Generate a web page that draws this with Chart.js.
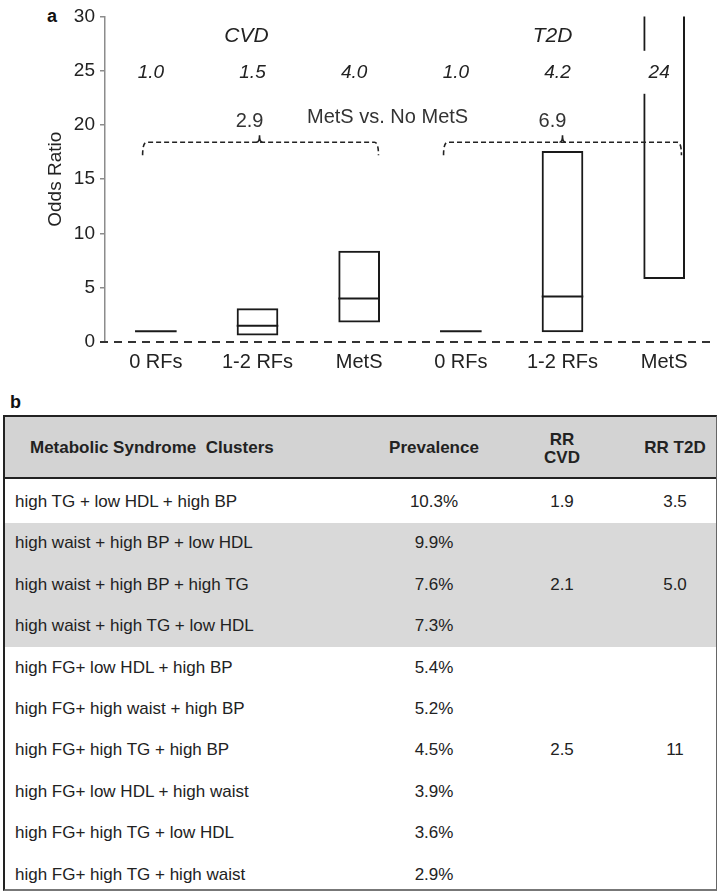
<!DOCTYPE html>
<html>
<head>
<meta charset="utf-8">
<script src="https://cdn.jsdelivr.net/npm/chart.js@4.4.1/dist/chart.umd.min.js"></script>
<style>
  html, body { margin: 0; padding: 0; background: #fff; }
  body { width: 720px; height: 893px; position: relative; overflow: hidden;
         font-family: "Liberation Sans", Arial, sans-serif; color: #222; }
  #plot { position: absolute; left: 0; top: 0; }
  .panel { position: absolute; font-weight: bold; font-size: 18px; line-height: 18px; color: #111; }
  #tbl { position: absolute; left: 3px; top: 415px; width: 714px; height: 476px; box-sizing: border-box;
         border-top: 2px solid #222; border-left: 2px solid #222; border-right: 1px solid #666; border-bottom: 2px solid #777; }
  #tbl div { position: absolute; }
  .hdr { font-weight: bold; font-size: 17px; line-height: 18px; color: #222; }
  .cell { font-size: 17px; line-height: 20px; height: 20px; color: #222; white-space: nowrap; }
  .ctr { width: 140px; text-align: center; }
</style>
</head>
<body>
<div class="panel" style="left:47px; top:7px;">a</div>
<canvas id="plot" width="720" height="390"></canvas>
<div class="panel" style="left:10px; top:393px;">b</div>
<div id="tbl"></div>

<script>
// ---- panel a: odds ratios for CVD and T2D by risk-factor group ----
const categories = ['0 RFs', '1-2 RFs', 'MetS', '0 RFs', '1-2 RFs', 'MetS'];
const outcomes   = ['CVD', 'T2D'];
const lower      = [1.0, 0.6, 1.8, 1.0, 0.9, 5.8];
const upper      = [1.0, 3.1, 8.4, 1.0, 17.6, 36];   // T2D MetS upper limit runs past the axis top
const median     = [1.0, 1.5, 4.0, 1.0, 4.2, 24];
const metsVsNone = [2.9, 6.9];
const yTicks     = [0, 5, 10, 15, 20, 25, 30];

// ---- panel b: metabolic syndrome clusters ----
const clusters = [
  'high TG + low HDL + high BP',
  'high waist + high BP + low HDL',
  'high waist + high BP + high TG',
  'high waist + high TG + low HDL',
  'high FG+ low HDL + high BP',
  'high FG+ high waist + high BP',
  'high FG+ high TG + high BP',
  'high FG+ low HDL + high waist',
  'high FG+ high TG + low HDL',
  'high FG+ high TG + high waist'
];
const prevalence = [10.3, 9.9, 7.6, 7.3, 5.4, 5.2, 4.5, 3.9, 3.6, 2.9];
const groupSpans = [[0, 0], [1, 3], [4, 9]];
const groupLabelRow = [0, 2, 6];
const rrCVD = [1.9, 2.1, 2.5];
const rrT2D = [3.5, 5.0, 11];

const FONT = '"Liberation Sans", Arial, sans-serif';
const fmt = v => (v >= 10 ? v.toFixed(0) : v.toFixed(1));

const notes = {
  id: 'notes',
  afterDatasetsDraw(chart) {
    const { ctx, chartArea: a, scales: { x, y } } = chart;
    const px = i => x.getPixelForValue(i);
    const bars = chart.getDatasetMeta(0).data;
    ctx.save();

    // dashed reference line along OR = 0
    const y0 = y.getPixelForValue(0);
    ctx.setLineDash([8, 6]);
    ctx.lineWidth = 2;
    ctx.strokeStyle = '#333';
    ctx.beginPath();
    ctx.moveTo(a.left - 5, y0);
    ctx.lineTo(a.right - 3, y0);
    ctx.stroke();

    // braces spanning each outcome group
    const braces = [{ from: -0.13, to: 2.19, mid: 1.02 }, { from: 2.83, to: 5.17, mid: 4.0 }];
    const yb = y.getPixelForValue(18.4), yEnd = y.getPixelForValue(17.2), yTip = y.getPixelForValue(19.05);
    ctx.setLineDash([5, 3]);
    ctx.lineWidth = 1.6;
    ctx.strokeStyle = '#222';
    braces.forEach(b => {
      const x1 = px(b.from), x2 = px(b.to), xm = px(b.mid);
      ctx.beginPath();
      ctx.moveTo(x1, yEnd);
      ctx.quadraticCurveTo(x1, yb, x1 + 4, yb);
      ctx.lineTo(x2 - 4, yb);
      ctx.quadraticCurveTo(x2, yb, x2, yEnd);
      ctx.stroke();
      ctx.setLineDash([]);
      ctx.beginPath();
      ctx.moveTo(xm - 3, yb);
      ctx.quadraticCurveTo(xm, yb, xm, yTip);
      ctx.quadraticCurveTo(xm, yb, xm + 3, yb);
      ctx.stroke();
      ctx.setLineDash([5, 3]);
    });
    ctx.setLineDash([]);

    ctx.textAlign = 'center';
    ctx.textBaseline = 'middle';

    // outcome titles
    ctx.fillStyle = '#222';
    ctx.font = 'italic 21px ' + FONT;
    const yt = y.getPixelForValue(28.16);
    ctx.fillText(outcomes[0], px(1) - 11, yt);
    ctx.fillText(outcomes[1], px(4) - 10, yt);

    // median odds ratios, each on a white label box as wide as its bar
    // (the box stops short of the bar's right border line)
    const ym = y.getPixelForValue(24.85);
    ctx.font = 'italic 19px ' + FONT;
    median.forEach((m, i) => {
      const b = bars[i];
      const half = b.width / 2;
      ctx.fillStyle = '#fff';
      ctx.fillRect(b.x - half - 1, ym - 21.5, b.width - 1, 43);
      ctx.fillStyle = '#222';
      ctx.fillText(fmt(m), px(i) - 5, ym);
    });

    // MetS vs. No MetS comparison
    ctx.font = '20px ' + FONT;
    ctx.fillStyle = '#333';
    ctx.fillText('MetS vs. No MetS', px(2.25) + 3, y.getPixelForValue(20.7));
    const yv = y.getPixelForValue(20.34);
    metsVsNone.forEach((v, k) => ctx.fillText(fmt(v), px(braces[k].mid) - 10, yv));

    ctx.restore();
  }
};

new Chart(document.getElementById('plot'), {
  data: {
    labels: categories,
    datasets: [
      {
        type: 'bar',
        data: lower.map((lo, i) => [lo, upper[i]]),
        backgroundColor: 'transparent',
        borderColor: '#1a1a1a',
        borderWidth: 2,
        borderSkipped: false,
        barPercentage: 1,
        categoryPercentage: 0.41,
        clip: 0
      },
      {
        type: 'line',
        data: median,
        showLine: false,
        pointStyle: 'line',
        pointRadius: 20.8,
        pointBorderWidth: 2,
        pointBorderColor: '#1a1a1a',
        pointBackgroundColor: '#1a1a1a'
      }
    ]
  },
  options: {
    responsive: false,
    animation: false,
    events: [],
    layout: { autoPadding: false, padding: { top: 16, right: 5, left: 0, bottom: 0 } },
    plugins: { legend: { display: false }, tooltip: { enabled: false } },
    scales: {
      x: {
        afterFit(s) { s.height = 48; },
        grid: { display: false, drawTicks: false },
        border: { display: false },
        ticks: { color: '#222', font: { family: FONT, size: 20 }, padding: 8, maxRotation: 0, autoSkip: false }
      },
      y: {
        min: 0, max: 30,
        afterFit(s) { s.width = 105; },
        afterBuildTicks(s) { s.ticks = yTicks.map(v => ({ value: v })); },
        ticks: { color: '#222', font: { family: FONT, size: 19 }, padding: 5 },
        grid: { drawOnChartArea: false, drawTicks: true, tickLength: 5, color: '#8c8c8c', lineWidth: 1.5 },
        border: { display: true, color: '#8c8c8c', width: 1.5 },
        title: { display: true, text: 'Odds Ratio', color: '#222', font: { family: FONT, size: 19 }, padding: { top: 44, bottom: 0 } }
      }
    }
  },
  plugins: [notes]
});

// ---- build the cluster table ----
(function () {
  const tbl = document.getElementById('tbl');
  const add = (cls, html, css) => {
    const d = document.createElement('div');
    d.className = cls;
    d.innerHTML = html;
    Object.assign(d.style, css);
    tbl.appendChild(d);
    return d;
  };
  const rowY = r => 85 + 41.4 * r;           // row centre, relative to the table's inner top
  const colX = [null, 429, 557, 670];        // column centres for the numeric columns

  // header band and its rule
  add('', '', { left: '0', top: '0', width: '100%', height: '60px', background: '#d3d3d3' });
  add('', '', { left: '0', top: '60px', width: '100%', height: '2px', background: '#222' });
  // shaded middle group
  const g = groupSpans[1];
  const gTop = rowY(g[0]) - 20.7, gBot = rowY(g[1]) + 20.7;
  add('', '', { left: '0', top: gTop + 'px', width: '100%', height: (gBot - gTop) + 'px', background: '#d9d9d9' });

  // header text
  add('hdr', 'Metabolic Syndrome&nbsp; Clusters', { left: '25px', top: '22px' });
  add('hdr ctr', 'Prevalence', { left: (colX[1] - 70) + 'px', top: '22px' });
  add('hdr ctr', 'RR<br>CVD', { left: (colX[2] - 70) + 'px', top: '14px' });
  add('hdr ctr', 'RR T2D', { left: (colX[3] - 70) + 'px', top: '22px' });

  // body rows
  clusters.forEach((c, r) => {
    const top = (rowY(r) - 10) + 'px';
    add('cell', c, { left: '10px', top });
    add('cell ctr', prevalence[r].toFixed(1) + '%', { left: (colX[1] - 70) + 'px', top });
  });
  groupLabelRow.forEach((r, k) => {
    const top = (rowY(r) - 10) + 'px';
    add('cell ctr', fmt(rrCVD[k]), { left: (colX[2] - 70) + 'px', top });
    add('cell ctr', fmt(rrT2D[k]), { left: (colX[3] - 70) + 'px', top });
  });
})();
</script>
</body>
</html>
